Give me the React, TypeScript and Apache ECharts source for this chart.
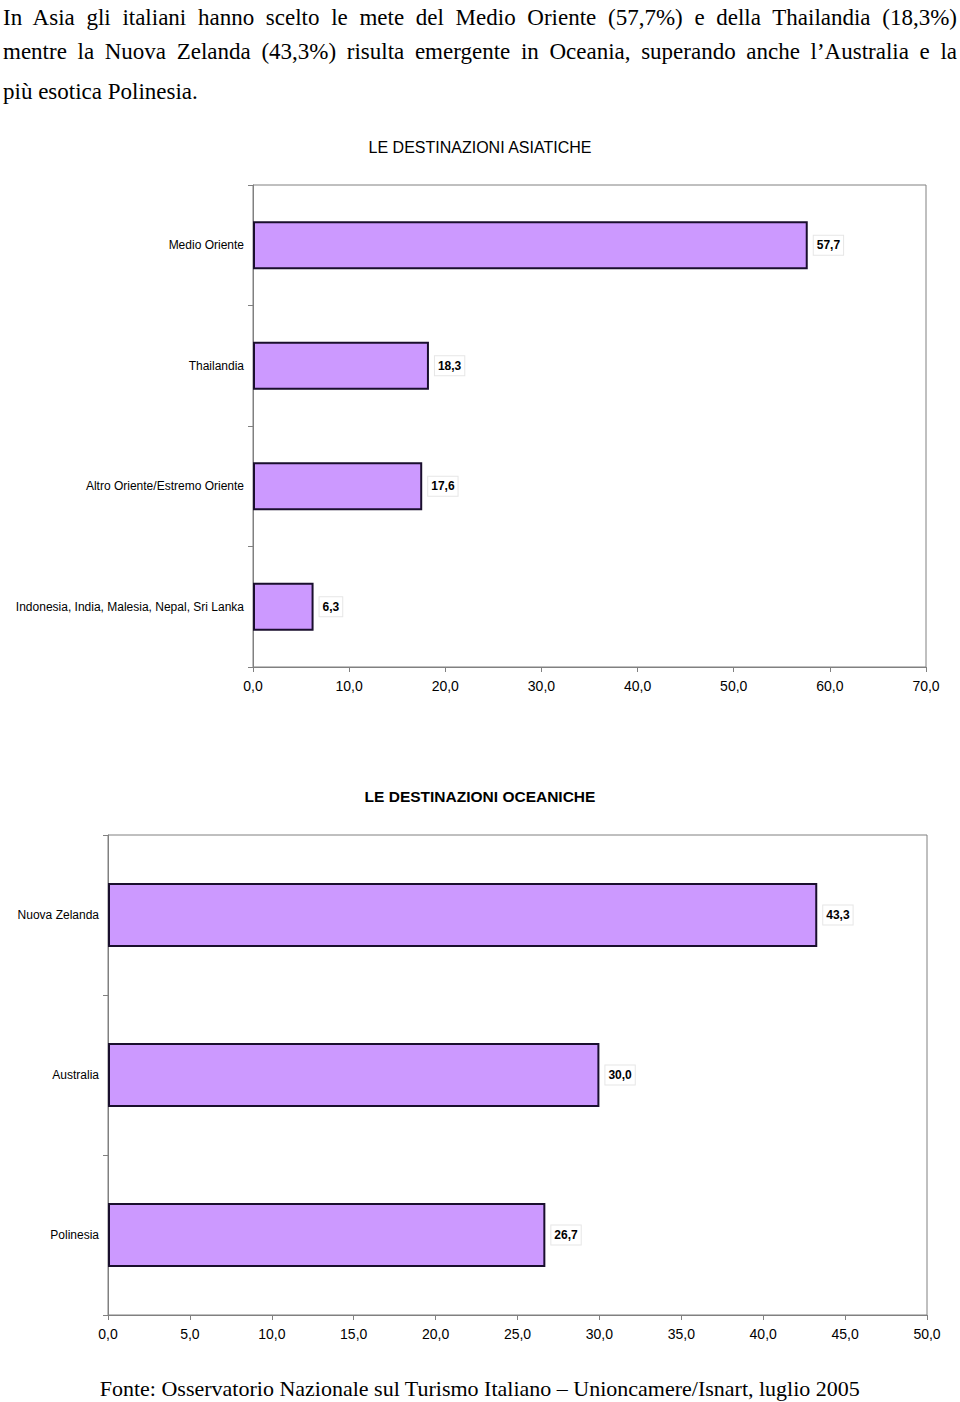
import React, { useEffect, useRef } from "react";
import * as echarts from "echarts";

const asiaCategories = [
  "Medio Oriente",
  "Thailandia",
  "Altro Oriente/Estremo Oriente",
  "Indonesia, India, Malesia, Nepal, Sri Lanka",
];
const asiaValues = [57.7, 18.3, 17.6, 6.3];

const oceaniaCategories = ["Nuova Zelanda", "Australia", "Polinesia"];
const oceaniaValues = [43.3, 30.0, 26.7];

const asiaTitle = "LE DESTINAZIONI ASIATICHE";
const oceaniaTitle = "LE DESTINAZIONI OCEANICHE";

const introLines = [
  "In Asia gli italiani hanno scelto le mete del Medio Oriente (57,7%) e della Thailandia (18,3%)",
  "mentre la Nuova Zelanda (43,3%) risulta emergente in Oceania, superando anche l\u2019Australia e la",
  "più esotica Polinesia.",
];
const footerText =
  "Fonte: Osservatorio Nazionale sul Turismo Italiano \u2013 Unioncamere/Isnart, luglio 2005";

const SANS = '"Liberation Sans", Arial, sans-serif';
const SERIF = '"Liberation Serif", "Times New Roman", serif';

const fmt = (v: number) => v.toFixed(1).replace(".", ",");

export default function App() {
  const ref = useRef<HTMLDivElement>(null);

  useEffect(() => {
    if (!ref.current) return;
    const chart = echarts.init(ref.current, undefined, { renderer: "svg" });

    const axisLineStyle = { color: "#808080", width: 1 };

    const makeX = (gridIndex: number, max: number, interval: number) => ({
      type: "value",
      gridIndex,
      min: 0,
      max,
      interval,
      axisLine: { show: true, lineStyle: axisLineStyle },
      axisTick: { show: true, length: 5, lineStyle: axisLineStyle },
      splitLine: { show: false },
      axisLabel: {
        margin: 12,
        fontFamily: SANS,
        fontSize: 14,
        color: "#000",
        formatter: (v: number) => fmt(v),
      },
    });

    const makeY = (gridIndex: number, data: string[]) => ({
      type: "category",
      gridIndex,
      data,
      inverse: true,
      axisLine: { show: true, lineStyle: axisLineStyle },
      axisTick: { show: true, length: 5, lineStyle: axisLineStyle },
      axisLabel: {
        margin: 9,
        fontFamily: SANS,
        fontSize: 12,
        color: "#000",
      },
    });

    const barSeries = (idx: number, data: number[]) => ({
      type: "bar",
      xAxisIndex: idx,
      yAxisIndex: idx,
      data,
      barWidth: "40%",
      itemStyle: {
        color: "#cc99ff",
        borderColor: "#1a0f2e",
        borderWidth: 2,
      },
      label: {
        show: true,
        position: "right",
        distance: 6,
        formatter: (p: any) => fmt(p.value),
        fontFamily: SANS,
        fontSize: 12,
        fontWeight: "bold",
        color: "#000",
        backgroundColor: "#fff",
        borderColor: "#e6e6e6",
        borderWidth: 1,
        padding: [4, 3, 3, 3],
      },
    });

    chart.setOption({
      animation: false,
      backgroundColor: "#fff",
      title: [
        {
          text: asiaTitle,
          left: "center",
          top: 139,
          textStyle: {
            fontFamily: SANS,
            fontSize: 16,
            fontWeight: "normal",
            color: "#000",
          },
          padding: 0,
        },
        {
          text: oceaniaTitle,
          left: "center",
          top: 788,
          textStyle: {
            fontFamily: SANS,
            fontSize: 15.5,
            fontWeight: "bold",
            color: "#000",
          },
          padding: 0,
        },
      ],
      grid: [
        {
          left: 253,
          top: 185,
          width: 673,
          height: 482,
          show: true,
          borderColor: "#808080",
          borderWidth: 1,
          backgroundColor: "transparent",
        },
        {
          left: 108,
          top: 835,
          width: 819,
          height: 480,
          show: true,
          borderColor: "#808080",
          borderWidth: 1,
          backgroundColor: "transparent",
        },
      ],
      xAxis: [makeX(0, 70, 10), makeX(1, 50, 5)],
      yAxis: [makeY(0, asiaCategories), makeY(1, oceaniaCategories)],
      series: [barSeries(0, asiaValues), barSeries(1, oceaniaValues)],
      graphic: [
        {
          type: "text",
          left: "center",
          top: 1377,
          style: {
            text: footerText,
            fontFamily: SERIF,
            fontSize: 22,
            fill: "#000",
          },
        },
      ],
    });

    return () => chart.dispose();
  }, []);

  const lineTops = [5, 39, 79];

  return (
    <div
      style={{
        position: "absolute",
        left: 0,
        top: 0,
        width: 960,
        height: 1402,
        background: "#fff",
      }}
    >
      <div ref={ref} style={{ position: "absolute", left: 0, top: 0, width: 960, height: 1402 }} />
      {introLines.map((line, i) => (
        <div
          key={i}
          style={{
            position: "absolute",
            left: 3,
            top: lineTops[i],
            width: 954,
            lineHeight: "26px",
            fontFamily: SERIF,
            fontSize: 23,
            color: "#000",
            textAlign: i < 2 ? "justify" : "left",
            textAlignLast: i < 2 ? "justify" : "left",
            whiteSpace: "nowrap",
          }}
        >
          {line}
        </div>
      ))}
    </div>
  );
}
